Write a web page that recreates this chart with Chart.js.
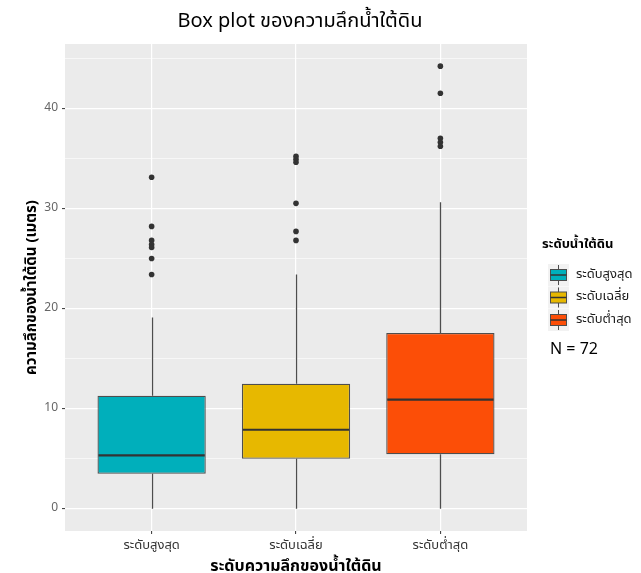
<!DOCTYPE html>
<html>
<head>
<meta charset="utf-8">
<script src="https://cdn.jsdelivr.net/npm/chart.js@4.4.1/dist/chart.umd.min.js"></script>
<style>
  html, body { margin: 0; padding: 0; background: #ffffff; }
  #wrap { width: 641px; height: 573px; }
</style>
</head>
<body>
<div id="wrap"><canvas id="c" width="641" height="573"></canvas></div>
<script>
// Groundwater depth (metres) summarised per water level group
const categories = ['ระดับสูงสุด', 'ระดับเฉลี่ย', 'ระดับต่ำสุด'];
const whiskerLow = [0, 0, 0];
const q1 = [3.5, 5.0, 5.45];
const median = [5.35, 7.9, 10.9];
const q3 = [11.3, 12.5, 17.55];
const whiskerHigh = [19.1, 23.4, 30.6];
const outliers = [
  [33.1, 28.2, 26.8, 26.4, 26.1, 25.0, 23.4],
  [35.2, 34.9, 34.6, 30.5, 27.7, 26.8],
  [44.2, 41.5, 37.0, 36.6, 36.2]
];
const yTickLabels = [0, 10, 20, 30, 40];
const yMinorGrid = [5, 15, 25, 35, 45];
const fillColors = ['#00AFBB', '#E7B800', '#FC4E07'];
const legendTitle = 'ระดับน้ำใต้ดิน';
const sampleSize = 72;

const FONT = '"Noto Sans Thai", "Noto Sans", "DejaVu Sans", sans-serif';

// whiskers under the boxes, median bars on top of them
const boxParts = {
  id: 'boxParts',
  beforeDatasetsDraw(chart) {
    const { ctx, scales: { x, y } } = chart;
    ctx.save();
    ctx.strokeStyle = '#4d4d4d';
    ctx.lineWidth = 1.3;
    categories.forEach((c, i) => {
      const px = Math.round(x.getPixelForValue(i)) + 0.5;
      ctx.beginPath();
      ctx.moveTo(px, y.getPixelForValue(q3[i]));
      ctx.lineTo(px, y.getPixelForValue(whiskerHigh[i]));
      ctx.moveTo(px, y.getPixelForValue(q1[i]));
      ctx.lineTo(px, y.getPixelForValue(whiskerLow[i]));
      ctx.stroke();
    });
    ctx.restore();
  },
  afterDatasetDraw(chart, args) {
    if (args.index !== 0) return;
    const { ctx, scales: { y } } = chart;
    ctx.save();
    ctx.strokeStyle = '#333333';
    ctx.lineWidth = 2.2;
    args.meta.data.forEach((bar, i) => {
      const { x, width } = bar.getProps(['x', 'width'], true);
      const py = y.getPixelForValue(median[i]);
      ctx.beginPath();
      ctx.moveTo(x - width / 2 + 1, py);
      ctx.lineTo(x + width / 2 - 1, py);
      ctx.stroke();
    });
    ctx.restore();
  }
};

// fill legend with box glyphs and the sample size note
const groupLegend = {
  id: 'groupLegend',
  afterDraw(chart) {
    const { ctx, chartArea } = chart;
    const x0 = chartArea.right + 15;
    ctx.save();
    ctx.textBaseline = 'middle';
    ctx.textAlign = 'left';
    ctx.fillStyle = '#000000';
    ctx.font = 'bold 13px ' + FONT;
    ctx.fillText(legendTitle, x0, 245);
    categories.forEach((label, i) => {
      const cy = 275 + i * 22.5;
      const kx = x0 + 6;
      ctx.fillStyle = '#F2F2F2';
      ctx.fillRect(kx, cy - 11, 21, 22);
      const mid = kx + 10.5;
      ctx.strokeStyle = '#4d4d4d';
      ctx.lineWidth = 1;
      ctx.beginPath();
      ctx.moveTo(mid, cy - 10); ctx.lineTo(mid, cy - 5.5);
      ctx.moveTo(mid, cy + 5.5); ctx.lineTo(mid, cy + 10);
      ctx.stroke();
      ctx.fillStyle = fillColors[i];
      ctx.fillRect(kx + 2, cy - 5.5, 17, 11);
      ctx.strokeRect(kx + 2.5, cy - 5.5, 16, 11);
      ctx.strokeStyle = '#333333';
      ctx.lineWidth = 1.5;
      ctx.beginPath();
      ctx.moveTo(kx + 2.5, cy); ctx.lineTo(kx + 18.5, cy);
      ctx.stroke();
      ctx.fillStyle = '#1a1a1a';
      ctx.font = '13px ' + FONT;
      ctx.fillText(label, kx + 28, cy);
    });
    ctx.fillStyle = '#000000';
    ctx.font = '16px ' + FONT;
    ctx.fillText('N = ' + sampleSize, x0 + 8, 351);
    ctx.restore();
  }
};

// grey panel behind the grid
const panelBg = {
  id: 'panelBg',
  beforeDraw(chart) {
    const { ctx, chartArea: a } = chart;
    ctx.save();
    ctx.fillStyle = '#EBEBEB';
    ctx.fillRect(a.left, a.top, a.right - a.left, a.bottom - a.top);
    ctx.restore();
  }
};

const boxData = categories.map((c, i) => ({ x: i, y: [q1[i], q3[i]] }));
const outlierPoints = [];
outliers.forEach((vals, i) => vals.forEach(v => outlierPoints.push({ x: i, y: v })));

new Chart(document.getElementById('c'), {
  data: {
    datasets: [
      {
        type: 'bar',
        label: 'box',
        data: boxData,
        backgroundColor: fillColors,
        borderColor: 'rgba(51,51,51,0.85)',
        borderWidth: 1.3,
        borderSkipped: false,
        barPercentage: 0.75,
        categoryPercentage: 1,
        order: 2
      },
      {
        type: 'scatter',
        label: 'outliers',
        data: outlierPoints,
        pointRadius: 2.8,
        pointBackgroundColor: '#333333',
        pointBorderWidth: 0,
        order: 1
      }
    ]
  },
  options: {
    responsive: false,
    animation: false,
    devicePixelRatio: 1,
    layout: { padding: { left: 0, right: 41, top: 0, bottom: 0 } },
    plugins: {
      legend: { display: false },
      tooltip: { enabled: false },
      title: {
        display: true,
        text: 'Box plot ของความลึกน้ำใต้ดิน',
        color: '#000000',
        font: { family: FONT, size: 20, weight: 'normal', lineHeight: 1.2 },
        padding: { top: 11, bottom: 9 }
      }
    },
    scales: {
      x: {
        type: 'linear',
        min: -0.6,
        max: 2.6,
        offset: false,
        afterBuildTicks: s => { s.ticks = categories.map((c, i) => ({ value: i })); },
        afterFit: s => { s.height = 42; },
        ticks: {
          autoSkip: false,
          maxRotation: 0,
          padding: 5,
          color: '#333333',
          font: { family: FONT, size: 13 },
          callback: v => categories[v]
        },
        grid: { offset: false, color: '#FFFFFF', lineWidth: 1.2, tickLength: 3, tickColor: '#333333', tickWidth: 1 },
        border: { display: false },
        title: {
          display: true,
          text: 'ระดับความลึกของน้ำใต้ดิน',
          color: '#000000',
          font: { family: FONT, size: 16, weight: 'bold', lineHeight: 1.2 },
          padding: { top: 0, bottom: -4 }
        }
      },
      y: {
        type: 'linear',
        min: -2.21,
        max: 46.41,
        afterBuildTicks: s => {
          s.ticks = yTickLabels.concat(yMinorGrid).sort((a, b) => a - b).map(v => ({ value: v }));
        },
        afterFit: s => { s.width = 65; },
        ticks: {
          autoSkip: false,
          padding: 4,
          color: '#666666',
          font: { family: FONT, size: 12 },
          callback: v => (yTickLabels.includes(v) ? String(v) : '')
        },
        grid: {
          color: '#FFFFFF',
          lineWidth: c => (yTickLabels.includes(c.tick.value) ? 1.2 : 0.6),
          tickLength: 3,
          tickColor: c => (yTickLabels.includes(c.tick.value) ? '#333333' : 'rgba(0,0,0,0)'),
          tickWidth: 1
        },
        border: { display: false },
        title: {
          display: true,
          text: 'ความลึกของน้ำใต้ดิน (เมตร)',
          color: '#000000',
          font: { family: FONT, size: 15, weight: 'bold', lineHeight: 1.2 },
          padding: { top: 24, bottom: 0 }
        }
      },
      legendSpace: {
        type: 'linear',
        position: 'right',
        display: true,
        afterFit: s => { s.width = 73; },
        ticks: { display: false },
        grid: { display: false, drawTicks: false },
        border: { display: false }
      }
    }
  },
  plugins: [panelBg, boxParts, groupLegend]
});
</script>
</body>
</html>
